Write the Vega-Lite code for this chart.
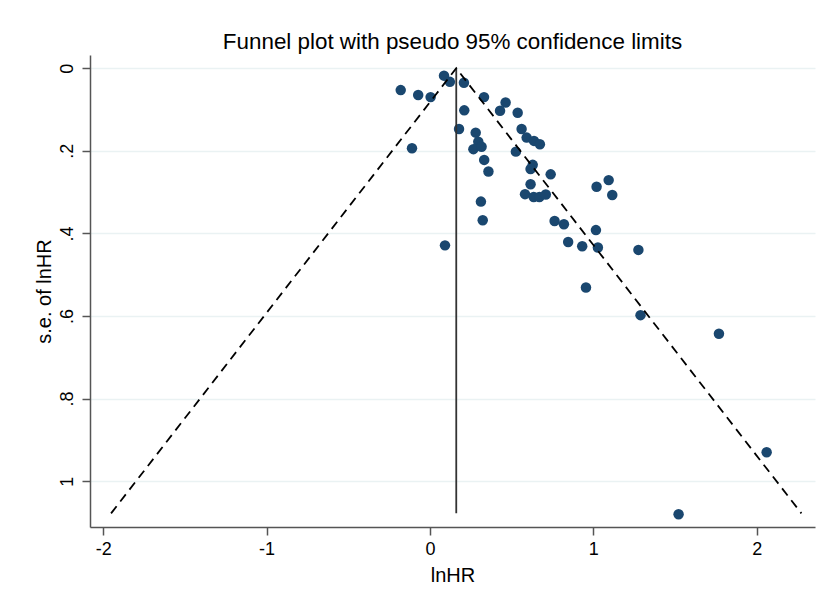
{
  "$schema": "https://vega.github.io/schema/vega-lite/v6.json",
  "autosize": "none",
  "width": 725,
  "height": 472,
  "padding": {"left": 90, "top": 55, "right": 9, "bottom": 77},
  "background": "white",
  "config": {
    "font": "Liberation Sans",
    "view": {"stroke": null},
    "axis": {
      "labelFont": "Liberation Sans",
      "titleFont": "Liberation Sans",
      "labelFontSize": 18,
      "titleFontSize": 20,
      "labelColor": "#000000",
      "titleColor": "#000000",
      "titleFontWeight": "normal",
      "domainColor": "#555555",
      "domainWidth": 1.5,
      "tickColor": "#555555",
      "tickWidth": 1.5,
      "tickSize": 8
    }
  },
  "title": {
    "text": "Funnel plot with pseudo 95% confidence limits",
    "font": "Liberation Sans",
    "fontSize": 22.4,
    "fontWeight": "normal",
    "color": "#000000",
    "anchor": "middle",
    "frame": "group",
    "baseline": "alphabetic",
    "offset": -16
  },
  "datasets": {
    "studies": [
      {"lnHR": -0.179, "se": 0.053},
      {"lnHR": -0.072, "se": 0.065},
      {"lnHR": 0.004, "se": 0.070},
      {"lnHR": 0.086, "se": 0.018},
      {"lnHR": 0.122, "se": 0.033},
      {"lnHR": 0.208, "se": 0.035},
      {"lnHR": 0.331, "se": 0.070},
      {"lnHR": 0.463, "se": 0.083},
      {"lnHR": 0.429, "se": 0.103},
      {"lnHR": 0.537, "se": 0.108},
      {"lnHR": 0.210, "se": 0.102},
      {"lnHR": -0.110, "se": 0.194},
      {"lnHR": 0.178, "se": 0.147},
      {"lnHR": 0.280, "se": 0.156},
      {"lnHR": 0.561, "se": 0.147},
      {"lnHR": 0.592, "se": 0.168},
      {"lnHR": 0.637, "se": 0.176},
      {"lnHR": 0.673, "se": 0.184},
      {"lnHR": 0.296, "se": 0.178},
      {"lnHR": 0.266, "se": 0.196},
      {"lnHR": 0.316, "se": 0.190},
      {"lnHR": 0.526, "se": 0.202},
      {"lnHR": 0.332, "se": 0.222},
      {"lnHR": 0.358, "se": 0.250},
      {"lnHR": 0.629, "se": 0.234},
      {"lnHR": 0.616, "se": 0.244},
      {"lnHR": 0.739, "se": 0.257},
      {"lnHR": 0.616, "se": 0.281},
      {"lnHR": 0.582, "se": 0.305},
      {"lnHR": 0.635, "se": 0.312},
      {"lnHR": 0.670, "se": 0.312},
      {"lnHR": 0.709, "se": 0.306},
      {"lnHR": 0.312, "se": 0.323},
      {"lnHR": 0.323, "se": 0.368},
      {"lnHR": 0.092, "se": 0.429},
      {"lnHR": 1.020, "se": 0.287},
      {"lnHR": 1.094, "se": 0.271},
      {"lnHR": 1.116, "se": 0.307},
      {"lnHR": 0.763, "se": 0.370},
      {"lnHR": 0.820, "se": 0.378},
      {"lnHR": 1.016, "se": 0.392},
      {"lnHR": 0.846, "se": 0.421},
      {"lnHR": 0.932, "se": 0.431},
      {"lnHR": 1.028, "se": 0.434},
      {"lnHR": 1.276, "se": 0.440},
      {"lnHR": 0.955, "se": 0.531},
      {"lnHR": 1.289, "se": 0.598},
      {"lnHR": 1.769, "se": 0.643},
      {"lnHR": 2.061, "se": 0.930},
      {"lnHR": 1.522, "se": 1.080}
    ],
    "funnel": [
      {"lnHR": -1.952, "se": 1.078},
      {"lnHR": 0.161, "se": 0.0},
      {"lnHR": 2.274, "se": 1.078}
    ],
    "center": [
      {"lnHR": 0.161, "se": 0.0, "se2": 1.078}
    ]
  },
  "layer": [
    {
      "data": {"name": "studies"},
      "mark": {"type": "circle", "color": "#1a476f", "opacity": 1, "size": 110},
      "encoding": {
        "x": {
          "field": "lnHR", "type": "quantitative",
          "scale": {"domain": [-2.081, 2.357], "nice": false, "zero": false},
          "axis": {
            "title": "lnHR",
            "values": [-2, -1, 0, 1, 2],
            "labelExpr": "datum.value < 0 ? '-' + abs(datum.value) : '' + datum.value",
            "grid": false,
            "labelPadding": 5,
            "titlePadding": 7
          }
        },
        "y": {
          "field": "se", "type": "quantitative",
          "scale": {"domain": [-0.032, 1.111], "nice": false, "zero": false, "reverse": true},
          "axis": {
            "title": "s.e. of lnHR",
            "values": [0, 0.2, 0.4, 0.6, 0.8, 1],
            "labelExpr": "datum.value == 0 ? '0' : datum.value == 1 ? '1' : substring(format(datum.value, '.1f'), 1)",
            "labelAngle": -90,
            "labelAlign": "center",
            "labelBaseline": "bottom",
            "labelPadding": 6,
            "grid": true,
            "gridColor": "#eaf2f3",
            "gridWidth": 1.5,
            "titleAngle": -90,
            "titleBaseline": "middle",
            "titleAlign": "center",
            "titleX": -46,
            "titleY": 236
          }
        }
      }
    },
    {
      "data": {"name": "center"},
      "mark": {"type": "rule", "color": "#333333", "strokeWidth": 1.8},
      "encoding": {
        "x": {"field": "lnHR", "type": "quantitative"},
        "y": {"field": "se", "type": "quantitative"},
        "y2": {"field": "se2"}
      }
    },
    {
      "data": {"name": "funnel"},
      "mark": {"type": "line", "color": "#000000", "strokeWidth": 1.8, "strokeDash": [9, 6]},
      "encoding": {
        "x": {"field": "lnHR", "type": "quantitative"},
        "y": {"field": "se", "type": "quantitative"}
      }
    }
  ]
}
